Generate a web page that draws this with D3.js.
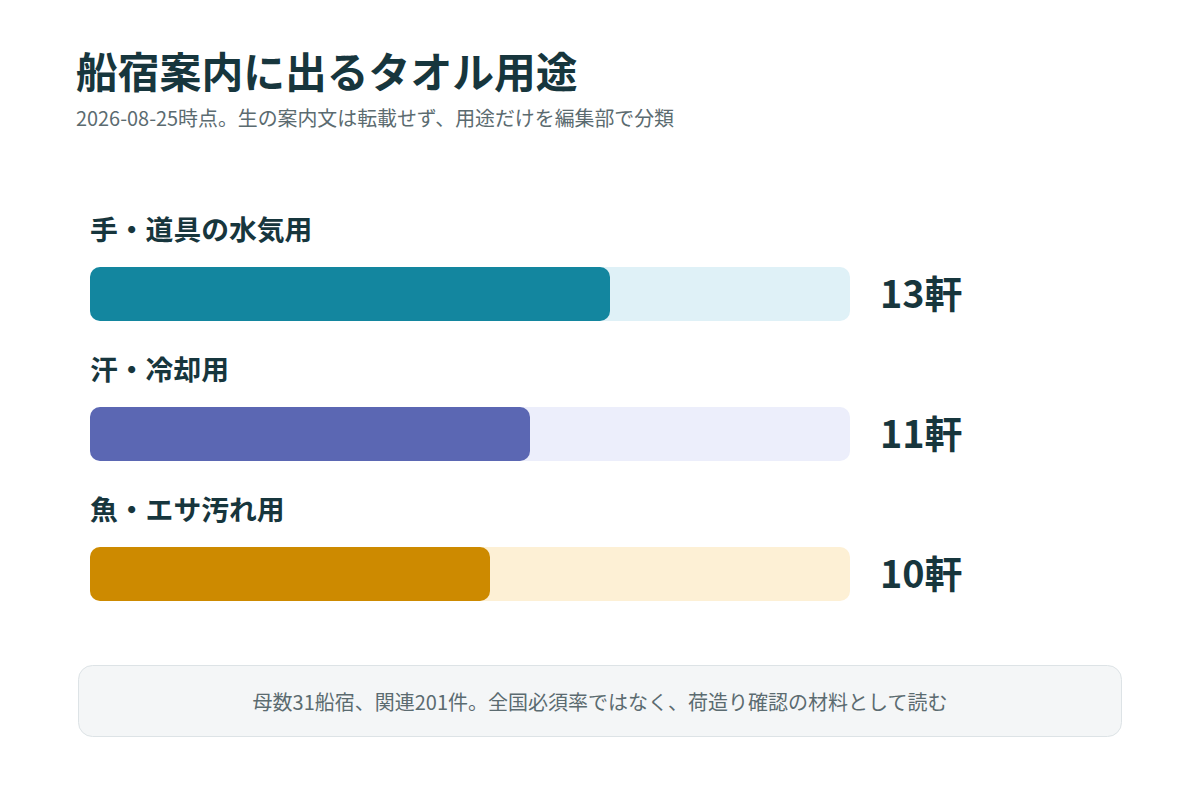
<!DOCTYPE html>
<html><head><meta charset="utf-8">
<script src="https://cdn.jsdelivr.net/npm/d3@7"></script>
<style>body{margin:0;background:#fff;}svg{display:block;font-family:"Noto Sans CJK JP","Noto Sans",sans-serif;}</style>
</head><body>
<svg id="c" width="1200" height="800"></svg>
<script>
const categories = ["手・道具の水気用", "汗・冷却用", "魚・エサ汚れ用"];
const counts = [13, 11, 10];
const unit = "軒";
const barColors = ["#13869f", "#5b67b3", "#cd8a00"];
const trackColors = ["#dff1f7", "#eceefb", "#fdf0d5"];
const title = "船宿案内に出るタオル用途";
const subtitle = "2026-08-25時点。生の案内文は転載せず、用途だけを編集部で分類";
const footnote = "母数31船宿、関連201件。全国必須率ではなく、荷造り確認の材料として読む";
const scaleMax = 19;

const svg = d3.select("#c");
svg.append("text").attr("x", 76).attr("y", 88).attr("font-size", 41.8).attr("font-weight", 700)
  .attr("fill", "#17363d").text(title);
svg.append("text").attr("x", 76).attr("y", 126).attr("font-size", 19.9)
  .attr("fill", "#5b6b70").text(subtitle);

const x = d3.scaleLinear().domain([0, scaleMax]).range([90, 850]);
const y = d3.scaleBand().domain(categories).range([210, 630]).paddingInner(0).paddingOuter(0);

const rows = svg.selectAll("g.row").data(categories).enter().append("g").attr("class", "row")
  .attr("transform", d => `translate(0,${y(d)})`);
rows.append("text").attr("x", 90).attr("y", 30).attr("font-size", 27.8).attr("font-weight", 700)
  .attr("fill", "#17363d").text(d => d);
rows.append("rect").attr("x", x(0)).attr("y", 57).attr("height", 54).attr("rx", 10)
  .attr("width", x(scaleMax) - x(0)).attr("fill", (d, i) => trackColors[i]);
rows.append("rect").attr("x", x(0)).attr("y", 57).attr("height", 54).attr("rx", 10)
  .attr("width", (d, i) => x(counts[i]) - x(0)).attr("fill", (d, i) => barColors[i]);
rows.append("text").attr("x", 880).attr("y", 98).attr("font-size", 37.8).attr("font-weight", 700)
  .attr("fill", "#17363d").text((d, i) => counts[i] + unit);

svg.append("rect").attr("x", 78.5).attr("y", 665.5).attr("width", 1043).attr("height", 71).attr("rx", 14)
  .attr("fill", "#f4f6f7").attr("stroke", "#dde3e6");
svg.append("text").attr("x", 600).attr("y", 710).attr("text-anchor", "middle").attr("font-size", 20)
  .attr("fill", "#5b6b70").text(footnote);
</script>
</body></html>
